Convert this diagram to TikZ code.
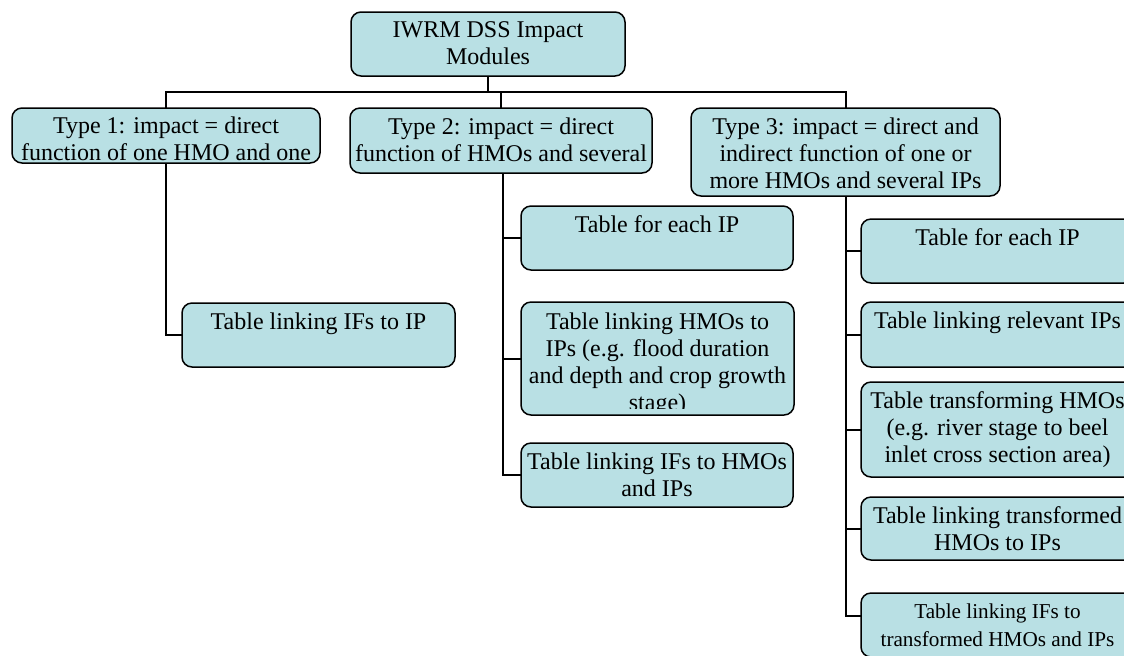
\documentclass[tikz,border=0pt]{standalone}
\usepackage{fontspec}
\setmainfont{Liberation Serif}
\definecolor{boxfill}{RGB}{185,224,228}
\tikzset{
  box/.style={draw=black, line width=0.75pt, fill=boxfill, rounded corners=5pt,
    inner sep=0pt, outer sep=0pt, anchor=north west},
  lab/.style={anchor=north, inner sep=0pt, yshift=-4.6pt, align=center,
    font=\fontsize{12}{13.5}\selectfont},
  smalllab/.style={anchor=north, inner sep=0pt, yshift=-5.2pt, align=center,
    font=\fontsize{10.6}{14}\selectfont},
  conn/.style={draw=black, line width=1pt}
}
\begin{document}
\begin{tikzpicture}[x=0.5pt, y=-0.5pt]
\clip (0,0) rectangle (1124,655);
\fill[white] (0,0) rectangle (1124,655);
% top
\node[box, minimum width=137pt, minimum height=32pt,
  label={[lab]north:{IWRM DSS Impact\\Modules}}] (top) at (351,12) {};
% types
\node[box, minimum width=154pt, minimum height=27.5pt,
  label={[lab, yshift=0.5pt]north:{Type 1: impact = direct\\function of one HMO and one}}] (t1) at (12,108) {};
\node[box, minimum width=151pt, minimum height=32.5pt,
  label={[lab]north:{Type 2: impact = direct\\function of HMOs and several}}] (t2) at (350,108) {};
\node[box, minimum width=154.5pt, minimum height=44pt,
  label={[lab]north:{Type 3: impact = direct and\\indirect function of one or\\more HMOs and several IPs}}] (t3) at (691,108) {};
% type 1 child
\node[box, minimum width=136.5pt, minimum height=32pt,
  label={[lab]north:{Table linking IFs to IP}}] (a1) at (182,303) {};
% type 2 children
\node[box, minimum width=136pt, minimum height=32pt,
  label={[lab]north:{Table for each IP}}] (b1) at (521,206) {};
\node[box, minimum width=136.5pt, minimum height=56.5pt] (b2) at (521,302) {};
\begin{scope}
  \clip ([yshift=3.5pt]b2.south west) rectangle (b2.north east);
  \node[lab, yshift=-0.5pt] (b2t) at (b2.north) {Table linking HMOs to\\IPs (e.g. flood duration\\and depth and crop growth\\stage)};
\end{scope}
\node[box, minimum width=136pt, minimum height=32pt,
  label={[lab]north:{Table linking IFs to HMOs\\and IPs}}] (b3) at (521,443) {};
% type 3 children
\node[box, minimum width=136.5pt, minimum height=32pt,
  label={[lab]north:{Table for each IP}}] (c1) at (861,219) {};
\node[box, minimum width=136.5pt, minimum height=32.5pt,
  label={[lab]north:{Table linking relevant IPs}}] (c2) at (861,302) {};
\node[box, minimum width=136.5pt, minimum height=47.5pt,
  label={[lab]north:{Table transforming HMOs\\(e.g. river stage to beel\\inlet cross section area)}}] (c3) at (861,382) {};
\node[box, minimum width=136.5pt, minimum height=31.5pt,
  label={[lab]north:{Table linking transformed\\HMOs to IPs}}] (c4) at (861,497) {};
\node[box, minimum width=136.5pt, minimum height=32pt,
  label={[smalllab]north:{Table linking IFs to\\transformed HMOs and IPs}}] (c5) at (861,593) {};
% connectors
\coordinate (bar) at (0,92);
\draw[conn] (top.south) -- (top.south |- bar);
\draw[conn] (t1.north) |- (t3.north |- bar) -- (t3.north);
\draw[conn] (t2.north) -- (t2.north |- bar);
\draw[conn] (t1.south) |- (a1.west);
\draw[conn] ([xshift=1pt]t2.south) |- (b1.west);
\draw[conn] ([xshift=1pt]t2.south) |- (b2.west);
\draw[conn] ([xshift=1pt]t2.south) |- (b3.west);
\draw[conn] (t3.south) |- (c1.west);
\draw[conn] (t3.south) |- (c2.west);
\draw[conn] (t3.south) |- (c3.west);
\draw[conn] (t3.south) |- (c4.west);
\draw[conn] (t3.south) |- ([yshift=4.5pt]c5.west);
\end{tikzpicture}
\end{document}
